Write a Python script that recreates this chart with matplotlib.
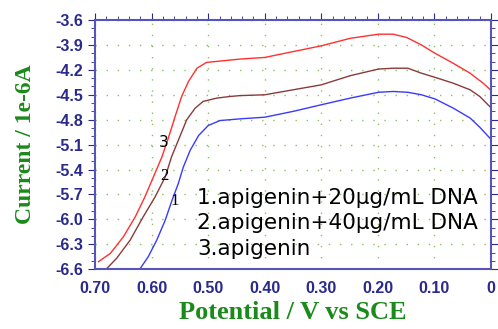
import matplotlib.pyplot as plt
from matplotlib.ticker import MultipleLocator
import numpy as np

# curve 1: apigenin + 20 ug/mL DNA (blue)
x1 = [0.620, 0.606, 0.591, 0.576, 0.565, 0.553, 0.544, 0.532, 0.517, 0.500, 0.479, 0.461, 0.444,
      0.400, 0.350, 0.300, 0.249, 0.199, 0.173, 0.147, 0.123, 0.099, 0.067, 0.037, 0.020, 0.001]
y1 = [-6.59, -6.45, -6.25, -6.01, -5.79, -5.57, -5.37, -5.17, -4.99, -4.87, -4.81, -4.80, -4.79,
      -4.77, -4.70, -4.62, -4.54, -4.47, -4.46, -4.47, -4.50, -4.55, -4.66, -4.78, -4.89, -5.03]

# curve 2: apigenin + 40 ug/mL DNA (brown)
x2 = [0.679, 0.662, 0.638, 0.615, 0.594, 0.576, 0.565, 0.553, 0.538, 0.523, 0.509, 0.485, 0.461, 0.444,
      0.400, 0.350, 0.300, 0.249, 0.199, 0.173, 0.147, 0.123, 0.099, 0.067, 0.037, 0.020, 0.001]
y2 = [-6.59, -6.47, -6.25, -5.97, -5.73, -5.49, -5.25, -5.05, -4.80, -4.66, -4.58, -4.54, -4.52, -4.51,
      -4.50, -4.44, -4.38, -4.27, -4.19, -4.18, -4.18, -4.24, -4.29, -4.36, -4.44, -4.52, -4.65]

# curve 3: apigenin (red)
x3 = [0.694, 0.673, 0.650, 0.629, 0.612, 0.597, 0.582, 0.570, 0.559, 0.547, 0.535, 0.520, 0.503, 0.473, 0.444,
      0.400, 0.350, 0.300, 0.249, 0.199, 0.173, 0.149, 0.123, 0.099, 0.067, 0.037, 0.014, 0.001]
y3 = [-6.51, -6.41, -6.21, -5.97, -5.73, -5.49, -5.25, -5.01, -4.77, -4.52, -4.34, -4.18, -4.11, -4.09, -4.07,
      -4.05, -3.98, -3.91, -3.82, -3.77, -3.77, -3.81, -3.90, -4.00, -4.12, -4.24, -4.36, -4.44]

legend_lines = ["1.apigenin+20μg/mL DNA", "2.apigenin+40μg/mL DNA", "3.apigenin"]

navy = "#2a2a8c"
fig = plt.figure(figsize=(4.98, 3.29), dpi=100)
ax = fig.add_axes([0.191, 0.182, 0.795, 0.757])

ax.plot(x1, y1, color="#3a3aff", lw=1.0)
ax.plot(x2, y2, color="#8b3a3a", lw=1.0)
ax.plot(x3, y3, color="#ff3030", lw=1.0)

ax.set_xlim(0.70, 0.0)
ax.set_ylim(-6.6, -3.6)
ax.xaxis.set_major_locator(MultipleLocator(0.1))
ax.xaxis.set_minor_locator(MultipleLocator(0.02))
ax.yaxis.set_major_locator(MultipleLocator(0.3))
ax.yaxis.set_minor_locator(MultipleLocator(0.1))
ax.set_xticklabels([f"{v:.2f}" if v > 0.001 else "0" for v in ax.get_xticks()])
ax.set_yticklabels([f"{v:.1f}" for v in ax.get_yticks()])

ax.grid(True, which="major", color="#8cc060", linestyle=(0, (1, 7)), lw=1.0)
for s in ax.spines.values():
    s.set_color("#5555bb")
    s.set_linewidth(1.5)
ax.tick_params(which="both", direction="out", color=navy, top=True, right=True, bottom=False,
               labelcolor=navy, labelsize=11.5)
ax.tick_params(which="major", length=5)
ax.tick_params(which="minor", length=3)
for lab in ax.get_xticklabels() + ax.get_yticklabels():
    lab.set_fontweight("bold")
    lab.set_family("Liberation Sans")

ax.text(0.578, -5.07, "3", fontsize=11, family="DejaVu Sans", ha="center", va="center")
ax.text(0.578, -5.48, "2", fontsize=12, family="Liberation Serif", ha="center", va="center")
ax.text(0.560, -5.78, "1", fontsize=12, family="Liberation Serif", ha="center", va="center")

for i, t in enumerate(legend_lines):
    ax.text(0.520, -5.74 - i * 0.31, t, fontsize=15.5, family="DejaVu Sans", va="center")

ax.set_xlabel("Potential / V vs SCE", fontsize=19, fontweight="bold", color="#1a8a1a",
              family="Liberation Serif", labelpad=4)
ax.set_ylabel("Current / 1e-6A", fontsize=17, fontweight="bold", color="#1a8a1a",
              family="Liberation Serif", labelpad=14)

fig.savefig("out.png", dpi=100)
